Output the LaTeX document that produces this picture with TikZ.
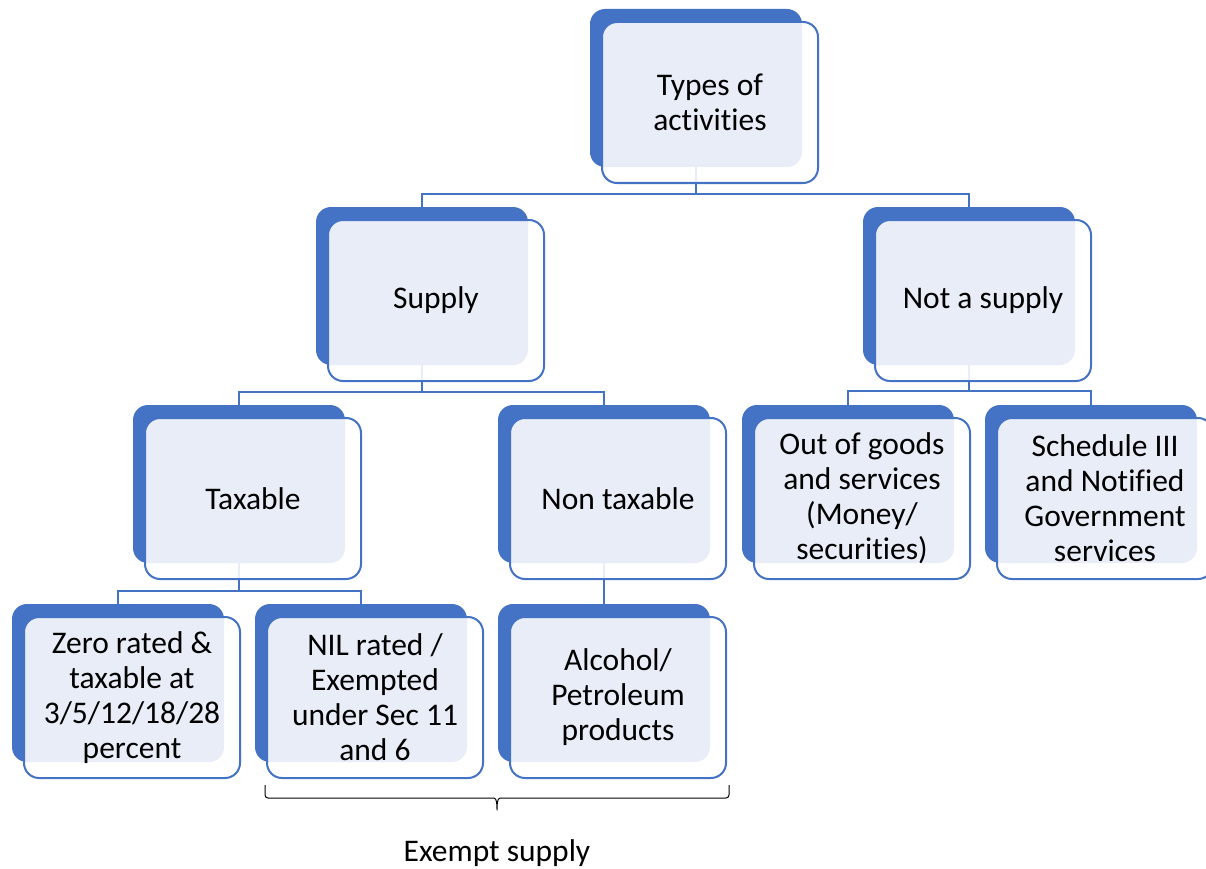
\documentclass[tikz,border=0pt]{standalone}
\usepackage{fontspec}
\setmainfont{Carlito}[Ligatures=NoCommon]
\usetikzlibrary{calc}
\definecolor{BoxClr}{HTML}{4472C4}

\begin{document}
\begin{tikzpicture}[x=1pt,y=-1pt,
  backbox/.style={fill=BoxClr,rounded corners=15pt,minimum width=212pt,minimum height=158pt,inner sep=0pt},
  frontbox/.style={draw=BoxClr,line width=2pt,fill=white,fill opacity=0.88,text opacity=1,rounded corners=15pt,
    minimum width=216pt,minimum height=161pt,inner sep=0pt,align=center,font=\fontsize{31.5}{35}\selectfont},
  link/.style={draw=BoxClr,line width=2pt}]
\useasboundingbox (0,0) rectangle (1206,869);

% back boxes
\foreach \n/\x/\y in {top/696/88,supply/422/286,notsup/969/286,taxable/239/484,nontax/604/484,
  outgoods/848/484,sched/1091/484,zero/118/683,nil/361/683,alcohol/604/683}
  \node[backbox] (\n-b) at (\x,\y) {};

% tree lines
\draw[link] (top-b.south) -- ++(0,27) -| (supply-b.north);
\draw[link] (top-b.south) -- ++(0,27) -| (notsup-b.north);
\draw[link] (supply-b.south) -- ++(0,27) -| (taxable-b.north);
\draw[link] (supply-b.south) -- ++(0,27) -| (nontax-b.north);
\draw[link] (notsup-b.south) -- ++(0,26) -| (outgoods-b.north);
\draw[link] (notsup-b.south) -- ++(0,26) -| (sched-b.north);
\draw[link] (taxable-b.south) -- ++(0,28) -| (zero-b.north);
\draw[link] (taxable-b.south) -- ++(0,28) -| (nil-b.north);
\draw[link] (nontax-b.south) -- (alcohol-b.north);

% front boxes
\node[frontbox] (top) at ($(top-b)+(14,14.5)$) {Types of\\activities};
\node[frontbox] (supply) at ($(supply-b)+(14,14.5)$) {Supply};
\node[frontbox] (notsup) at ($(notsup-b)+(14,14.5)$) {Not a supply};
\node[frontbox] (taxable) at ($(taxable-b)+(14,14.5)$) {Taxable};
\node[frontbox] (nontax) at ($(nontax-b)+(14,14.5)$) {Non taxable};
\node[frontbox] (outgoods) at ($(outgoods-b)+(14,14.5)$) {Out of goods\\and services\\(Money/\\securities)};
\node[frontbox] (sched) at ($(sched-b)+(14,14.5)$) {Schedule III\\and Notified\\Government\\services};
\node[frontbox] (zero) at ($(zero-b)+(14,14.5)$) {Zero rated \&\\taxable at\\3/5/12/18/28\\percent};
\node[frontbox] (nil) at ($(nil-b)+(14,14.5)$) {NIL rated /\\Exempted\\under Sec 11\\and 6};
\node[frontbox] (alcohol) at ($(alcohol-b)+(14,14.5)$) {Alcohol/\\Petroleum\\products};

% exempt brace
\coordinate (bl) at ($(nil.south west)+(-1,6)$);
\coordinate (br) at ($(alcohol.south east)+(2,6)$);
\coordinate (bm) at ($(bl)!0.5!(br)$);
\draw[line width=1pt,rounded corners=3pt] (bl) -- ++(0,13) -- ($(bm)+(-6,13)$) to[out=0,in=90] ($(bm)+(0,27)$)
  to[out=90,in=180] ($(bm)+(6,13)$) -- ($(br)+(0,13)$) -- (br);
\node[font=\fontsize{31.5}{35}\selectfont] (exempt) at (497,853) {Exempt supply};

\end{tikzpicture}
\end{document}
